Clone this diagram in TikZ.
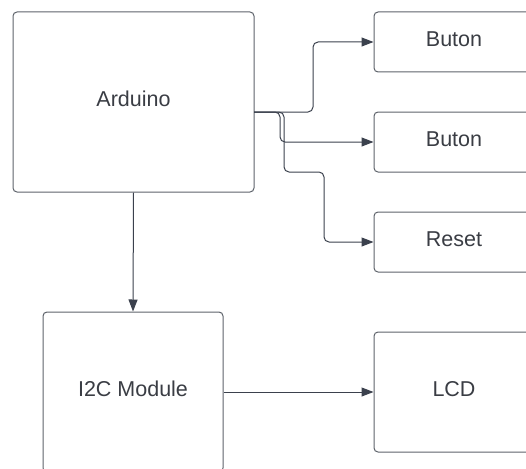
\documentclass[tikz,border=0pt]{standalone}
\usepackage{fontspec}
\setmainfont{Liberation Sans}
\usetikzlibrary{arrows.meta}
\definecolor{edge}{HTML}{5E636B}
\definecolor{tip}{HTML}{3B414D}
\definecolor{txt}{HTML}{3A3D44}
\tikzset{
  blk/.style={draw=edge, line width=1pt, rounded corners=4pt, fill=white, text=txt, font=\fontsize{21.5}{24}\selectfont, inner sep=0pt, text depth=6pt},
  conn/.style={draw=tip, line width=1pt, rounded corners=5pt, -{Triangle[length=12pt,width=9pt]}}
}
\begin{document}
\begin{tikzpicture}[x=1pt,y=-1pt]
\useasboundingbox (0,0) rectangle (526,468);
\clip (0,0) rectangle (526,468);
\node[blk, minimum width=241pt, minimum height=180pt] (ard) at (133.5,102) {Arduino};
\node[blk, minimum width=160pt, minimum height=60pt] (b1) at (454,42) {Buton};
\node[blk, minimum width=160pt, minimum height=60pt] (b2) at (454,142) {Buton};
\node[blk, minimum width=160pt, minimum height=60pt] (rs) at (454,242) {Reset};
\node[blk, minimum width=180pt, minimum height=160pt] (i2c) at (133,392) {I2C Module};
\node[blk, minimum width=160pt, minimum height=120pt] (lcd) at (454,392) {LCD};
\coordinate (out) at (254,112);
\draw[conn] (out) -- (313,112) -- (313,42) -- (b1.west);
\draw[conn] (out) -- (280,112) -- (280,142) -- (b2.west);
\draw[conn] (out) -- (284,112) -- (284,172) -- (324,172) -- (324,242) -- (rs.west);
\draw[conn] (ard.south) -- (i2c.north);
\draw[conn] (i2c.east) -- (lcd.west);
\end{tikzpicture}
\end{document}
